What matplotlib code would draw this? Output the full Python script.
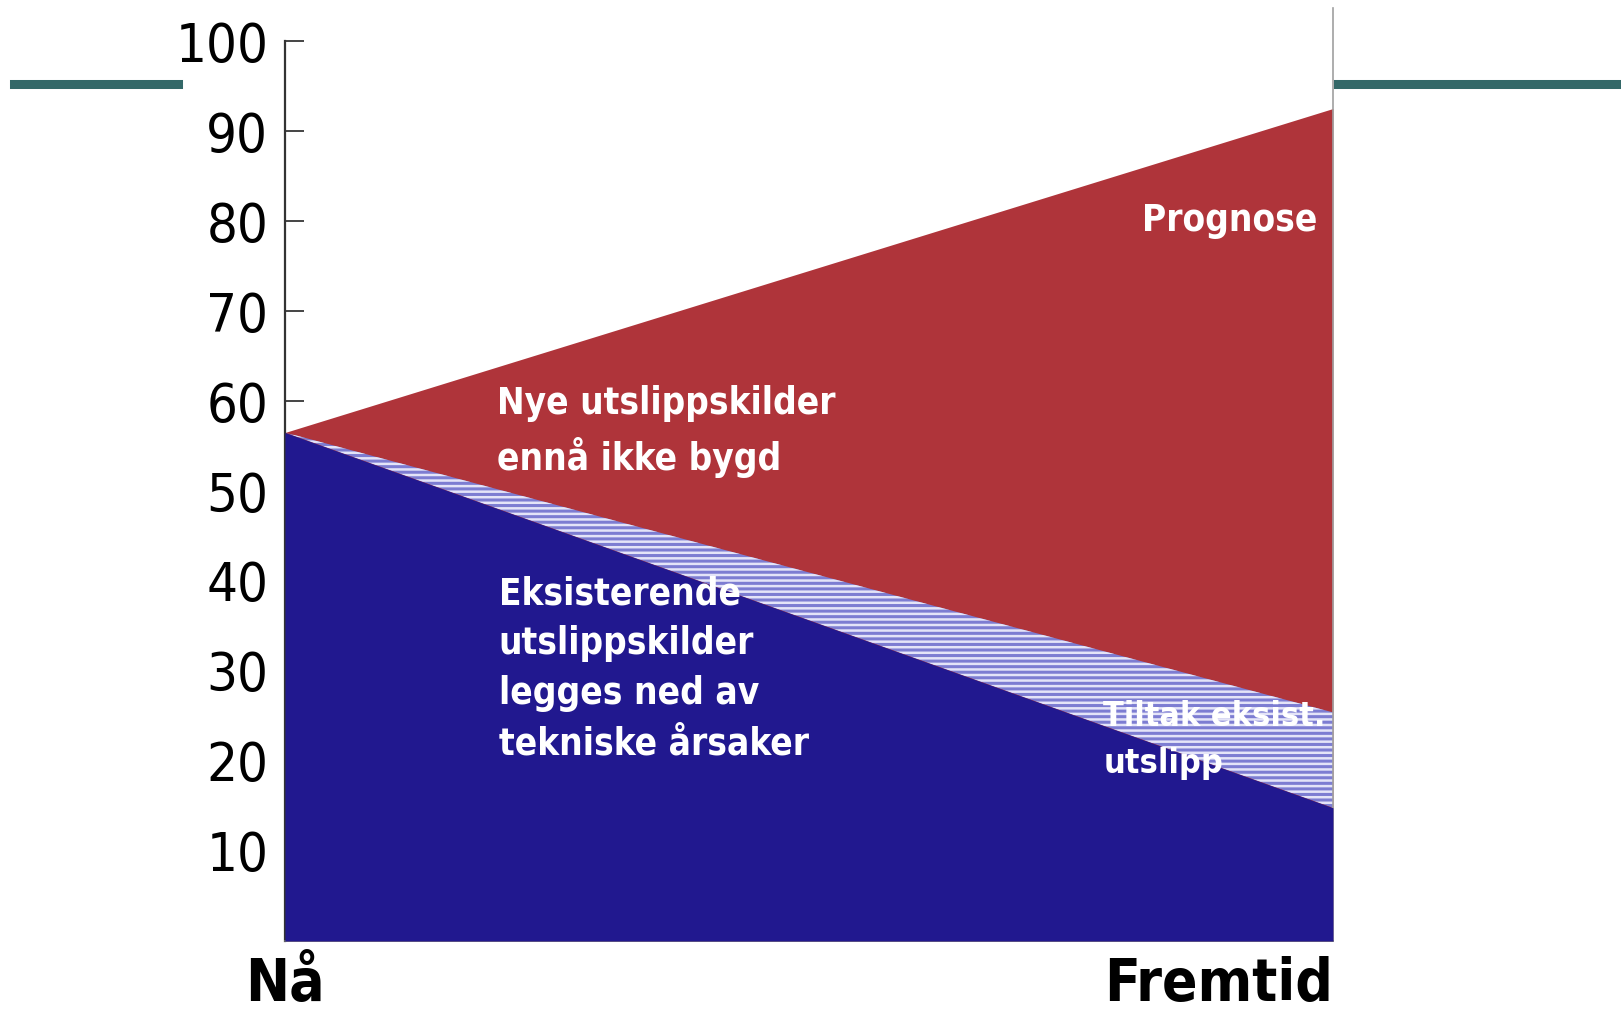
import matplotlib
matplotlib.use('Agg')
import matplotlib.pyplot as plt
from matplotlib.lines import Line2D

# Data
tider = ['Nå', 'Fremtid']
x = [0, 1]
prognose = [56.5, 92.5]        # top of red area
tiltak_topp = [56.5, 25.4]     # top of hatched band
eksisterende = [56.5, 14.8]    # top of blue area
yticks = [10, 20, 30, 40, 50, 60, 70, 80, 90, 100]

plt.rcParams['font.family'] = ['DejaVu Sans']
plt.rcParams['font.stretch'] = 'condensed'
plt.rcParams['hatch.linewidth'] = 1.8

fig = plt.figure(figsize=(16.21, 10.13), dpi=100)
ax = fig.add_axes([0.1758, 0.0711, 0.6465, 0.8884 * 1.037])

# Areas
ax.fill_between(x, 0, prognose, color='#af343a', lw=0, zorder=1)
ax.fill_between(x, eksisterende, tiltak_topp, facecolor='#7d7dd2',
                edgecolor='#e4e4f8', hatch='---', lw=0, zorder=2)
ax.fill_between(x, 0, eksisterende, color='#21188f', lw=0, zorder=3)

ax.set_xlim(0, 1)
ax.set_ylim(0, 103.7)
ax.set_axisbelow(True)

# Spines
ax.spines['top'].set_visible(False)
ax.spines['left'].set_bounds(0, 100)
ax.spines['left'].set_color('#333333')
ax.spines['left'].set_linewidth(1.6)
ax.spines['right'].set_color('#a0a0a0')
ax.spines['right'].set_linewidth(1.2)
ax.spines['bottom'].set_color('#777777')
ax.spines['bottom'].set_linewidth(1.2)

# Ticks
ax.set_yticks(yticks)
ax.set_yticklabels([str(v) for v in yticks])
ax.tick_params(axis='y', direction='in', length=14, width=1.4, color='#444444',
               pad=12, labelsize=39)
ax.set_xticks(x)
ax.set_xticklabels(tider, fontsize=42, fontweight='bold')
ax.tick_params(axis='x', length=0, pad=11)
labs = ax.get_xticklabels()
labs[1].set_ha('right')

# White labels
tekst = dict(color='white', fontweight='bold')
ax.text(0.985, 80.1, 'Prognose', ha='right', va='center', fontsize=26.5, **tekst)
ax.text(0.202, 56.6, 'Nye utslippskilder\nennå ikke bygd', ha='left', va='center',
        fontsize=26.5, linespacing=1.45, **tekst)
ax.text(0.204, 30.25, 'Eksisterende\nutslippskilder\nlegges ned av\ntekniske årsaker',
        ha='left', va='center', fontsize=26.5, linespacing=1.45, **tekst)
ax.text(0.781, 22.3, 'Tiltak eksist.\nutslipp', ha='left', va='center',
        fontsize=24.5, linespacing=1.55, **tekst)

# Teal decoration lines
fig.add_artist(Line2D([0.0086, 0.1098], [0.917, 0.917], color='#336868', lw=6.5,
                      transform=fig.transFigure))
fig.add_artist(Line2D([0.8254, 1.0], [0.917, 0.917], color='#336868', lw=6.5,
                      transform=fig.transFigure))

fig.savefig('out.png', dpi=100)
